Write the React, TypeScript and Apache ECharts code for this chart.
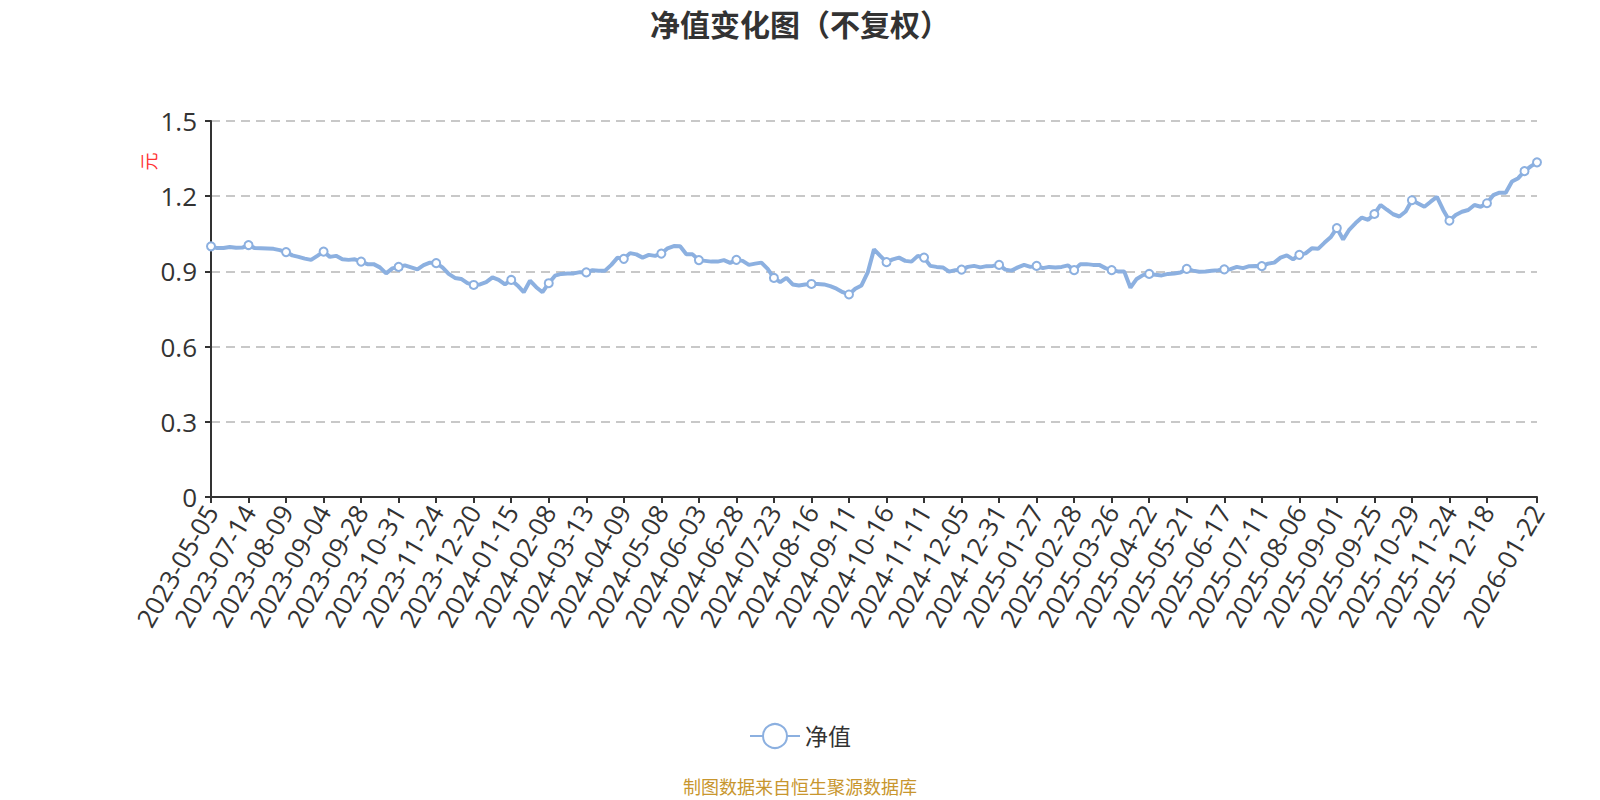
import React, { useEffect, useRef } from "react";
import * as echarts from "echarts";

const chartTitle = "净值变化图（不复权）";
const seriesName = "净值";
const yUnit = "元";
const sourceNote = "制图数据来自恒生聚源数据库";

const dates2023 = [
  "2023-05-05", "2023-05-19", "2023-06-02", "2023-06-16", "2023-06-30", "2023-07-07",
  "2023-07-14", "2023-07-19", "2023-07-24", "2023-07-27", "2023-08-01", "2023-08-04",
  "2023-08-09", "2023-08-14", "2023-08-17", "2023-08-22", "2023-08-25", "2023-08-30",
  "2023-09-04", "2023-09-07", "2023-09-12", "2023-09-15", "2023-09-20", "2023-09-25",
  "2023-09-28", "2023-10-11", "2023-10-16", "2023-10-19", "2023-10-24", "2023-10-27",
  "2023-10-31", "2023-11-03", "2023-11-08", "2023-11-13", "2023-11-16", "2023-11-21",
  "2023-11-24", "2023-11-29", "2023-12-04", "2023-12-07", "2023-12-12", "2023-12-15",
  "2023-12-20", "2023-12-25", "2023-12-28",
];
const dates2024 = [
  "2024-01-03", "2024-01-08", "2024-01-11",
  "2024-01-15", "2024-01-18", "2024-01-23", "2024-01-26", "2024-01-31", "2024-02-05",
  "2024-02-08", "2024-02-21", "2024-02-26", "2024-02-29", "2024-03-05", "2024-03-08",
  "2024-03-13", "2024-03-18", "2024-03-21", "2024-03-26", "2024-03-29", "2024-04-03",
  "2024-04-09", "2024-04-12", "2024-04-17", "2024-04-22", "2024-04-25", "2024-04-30",
  "2024-05-08", "2024-05-13", "2024-05-16", "2024-05-21", "2024-05-24", "2024-05-29",
  "2024-06-03", "2024-06-06", "2024-06-12", "2024-06-17", "2024-06-20", "2024-06-25",
  "2024-06-28", "2024-07-03", "2024-07-08", "2024-07-11", "2024-07-16", "2024-07-19",
  "2024-07-23", "2024-07-26", "2024-07-31", "2024-08-05", "2024-08-08", "2024-08-13",
  "2024-08-16", "2024-08-21", "2024-08-26", "2024-08-29", "2024-09-03", "2024-09-06",
  "2024-09-11", "2024-09-19", "2024-09-24", "2024-09-27", "2024-10-09", "2024-10-11",
  "2024-10-16", "2024-10-21", "2024-10-24", "2024-10-29", "2024-11-01", "2024-11-06",
  "2024-11-11", "2024-11-14", "2024-11-19", "2024-11-22", "2024-11-27", "2024-12-02",
  "2024-12-05", "2024-12-10", "2024-12-13", "2024-12-18", "2024-12-23", "2024-12-26",
  "2024-12-31",
];
const dates2025 = [
  "2025-01-06", "2025-01-09", "2025-01-14", "2025-01-17", "2025-01-22",
  "2025-01-27", "2025-02-07", "2025-02-12", "2025-02-17", "2025-02-20", "2025-02-25",
  "2025-02-28", "2025-03-05", "2025-03-10", "2025-03-13", "2025-03-18", "2025-03-21",
  "2025-03-26", "2025-03-31", "2025-04-03", "2025-04-09", "2025-04-14", "2025-04-17",
  "2025-04-22", "2025-04-25", "2025-04-30", "2025-05-08", "2025-05-13", "2025-05-16",
  "2025-05-21", "2025-05-26", "2025-05-29", "2025-06-04", "2025-06-09", "2025-06-12",
  "2025-06-17", "2025-06-20", "2025-06-25", "2025-06-30", "2025-07-03", "2025-07-08",
  "2025-07-11", "2025-07-16", "2025-07-21", "2025-07-24", "2025-07-29", "2025-08-01",
  "2025-08-06", "2025-08-11", "2025-08-14", "2025-08-19", "2025-08-22", "2025-08-27",
  "2025-09-01", "2025-09-04", "2025-09-09", "2025-09-12", "2025-09-17", "2025-09-22",
  "2025-09-25", "2025-09-30", "2025-10-14", "2025-10-17", "2025-10-22", "2025-10-24",
  "2025-10-29", "2025-11-03", "2025-11-06", "2025-11-11", "2025-11-14", "2025-11-19",
  "2025-11-24", "2025-11-27", "2025-12-02", "2025-12-05", "2025-12-10", "2025-12-15",
  "2025-12-18", "2025-12-23", "2025-12-26", "2025-12-31",
];
const dates2026 = ["2026-01-07", "2026-01-12", "2026-01-16", "2026-01-19", "2026-01-22"];

const nav2023 = [
  1.0, 0.993, 0.993, 0.997, 0.994, 0.995,
  1.005, 0.993, 0.992, 0.991, 0.99, 0.985,
  0.977, 0.964, 0.958, 0.951, 0.946, 0.962,
  0.979, 0.958, 0.962, 0.948, 0.946, 0.948,
  0.939, 0.929, 0.929, 0.916, 0.892, 0.912,
  0.918, 0.924, 0.916, 0.908, 0.925, 0.935,
  0.933, 0.916, 0.89, 0.874, 0.87, 0.853,
  0.846, 0.848, 0.857,
];
const nav2024 = [
  0.876, 0.866, 0.848,
  0.866, 0.844, 0.817, 0.863, 0.837, 0.817,
  0.853, 0.883, 0.89, 0.892, 0.892, 0.897,
  0.896, 0.905, 0.903, 0.903, 0.926, 0.955,
  0.95, 0.973, 0.968, 0.955, 0.966, 0.962,
  0.971, 0.992, 1.001, 1.0, 0.968, 0.968,
  0.945, 0.942, 0.939, 0.939, 0.945, 0.934,
  0.946, 0.942, 0.926, 0.931, 0.935, 0.91,
  0.874, 0.857, 0.874, 0.848, 0.844, 0.848,
  0.85, 0.85, 0.848, 0.841, 0.831, 0.817,
  0.808, 0.831, 0.844, 0.896, 0.988, 0.962,
  0.937, 0.948, 0.955, 0.942, 0.939, 0.962,
  0.955, 0.922, 0.918, 0.916, 0.899, 0.905,
  0.907, 0.918, 0.922, 0.916, 0.921, 0.922,
  0.926,
];
const nav2025 = [
  0.907, 0.903, 0.916, 0.926, 0.918,
  0.922, 0.913, 0.918, 0.916, 0.918, 0.924,
  0.905, 0.929, 0.929, 0.926, 0.926, 0.913,
  0.905, 0.9, 0.9, 0.835, 0.87, 0.885,
  0.89, 0.887, 0.884, 0.89, 0.892, 0.896,
  0.91, 0.903, 0.899, 0.9, 0.903, 0.905,
  0.908, 0.909, 0.918, 0.913, 0.921, 0.922,
  0.921, 0.931, 0.935, 0.955, 0.964, 0.948,
  0.966, 0.972, 0.992, 0.99, 1.014, 1.036,
  1.073, 1.027, 1.067, 1.093, 1.115, 1.106,
  1.129, 1.165, 1.146, 1.128, 1.119, 1.139,
  1.184, 1.171, 1.158, 1.178, 1.197, 1.145,
  1.102, 1.125, 1.138, 1.145, 1.165, 1.158,
  1.172, 1.204, 1.214, 1.214,
];
const nav2026 = [1.259, 1.272, 1.3, 1.319, 1.335];

const yTicks = { min: 0, max: 1.5, interval: 0.3 };

export default function App() {
  const ref = useRef<HTMLDivElement>(null);

  useEffect(() => {
    if (!ref.current) return;
    const chart = echarts.init(ref.current, null, { renderer: "svg" });
    const categories = [...dates2023, ...dates2024, ...dates2025, ...dates2026];
    const values = [...nav2023, ...nav2024, ...nav2025, ...nav2026];
    const lineColor = "#8cb0e0";
    const font = "'Open Sans', 'Noto Sans CJK SC', sans-serif";

    chart.setOption({
      animation: false,
      textStyle: { fontFamily: font },
      title: {
        text: chartTitle,
        left: "center",
        top: 4,
        textStyle: { fontSize: 30, fontWeight: "bold", color: "#333", fontFamily: font },
      },
      grid: { left: 211, right: 63, top: 121, bottom: 303, containLabel: false },
      legend: {
        data: [seriesName],
        left: "center",
        top: 718,
        itemWidth: 50,
        itemHeight: 30,
        textStyle: { fontSize: 23, color: "#333", fontFamily: font },
      },
      xAxis: {
        type: "category",
        boundaryGap: false,
        data: categories,
        axisLine: { lineStyle: { color: "#333", width: 2 } },
        axisTick: { show: true, length: 6, lineStyle: { color: "#333", width: 2 } },
        axisLabel: {
          interval: 5,
          showMaxLabel: true,
          rotate: 60,
          fontSize: 26,
          color: "#333",
          margin: 10,
          fontFamily: font,
        },
        splitLine: { show: false },
      },
      yAxis: {
        type: "value",
        min: yTicks.min,
        max: yTicks.max,
        interval: yTicks.interval,
        axisLine: { show: true, lineStyle: { color: "#333", width: 2 } },
        axisTick: { show: true, length: 6, lineStyle: { color: "#333", width: 2 } },
        axisLabel: { fontSize: 26, color: "#333", margin: 14, fontFamily: font },
        splitLine: { show: true, lineStyle: { color: "#c8c8c8", type: [9, 6], width: 2 } },
      },
      series: [
        {
          name: seriesName,
          type: "line",
          data: values,
          symbol: "emptyCircle",
          symbolSize: 8,
          showSymbol: true,
          lineStyle: { color: lineColor, width: 4 },
          itemStyle: { color: lineColor, borderWidth: 2 },
        },
      ],
      graphic: [
        {
          type: "text",
          x: 148.5,
          y: 161.5,
          rotation: Math.PI / 2,
          style: {
            text: yUnit,
            fontSize: 18,
            fill: "#ff3333",
            fontFamily: font,
            textAlign: "center",
            textVerticalAlign: "middle",
          },
        },
        {
          type: "text",
          left: "center",
          top: 778,
          style: { text: sourceNote, fontSize: 18, fill: "#c8962e", fontFamily: font },
        },
      ],
    });
    return () => chart.dispose();
  }, []);

  return (
    <div
      ref={ref}
      style={{ position: "fixed", left: 0, top: 0, width: 1600, height: 800, background: "#fff" }}
    />
  );
}
